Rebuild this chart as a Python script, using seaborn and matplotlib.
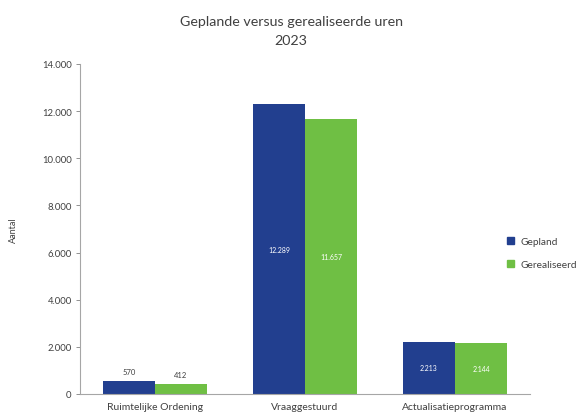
import pandas as pd
import matplotlib
matplotlib.use("Agg")
from matplotlib import pyplot as plt
import seaborn as sns

# Data
categories = ["Ruimtelijke Ordening", "Vraaggestuurd", "Actualisatieprogramma"]
gepland = [570, 12289, 2213]
gerealiseerd = [412, 11657, 2144]
series = ["Gepland", "Gerealiseerd"]
colors = ["#223F8F", "#6FBF44"]

df = pd.DataFrame({
    "categorie": categories * 2,
    "serie": [series[0]] * 3 + [series[1]] * 3,
    "aantal": gepland + gerealiseerd,
})

sns.set_style("white")
plt.rcParams["font.family"] = ["Lato", "DejaVu Sans"]


def nl(v):
    return f"{v:,.0f}".replace(",", ".")


fig = plt.figure(figsize=(5.82, 4.14), dpi=100)
ax = fig.add_axes([80 / 582, 1 - 395 / 414, 450 / 582, 330 / 414])

sns.barplot(data=df, x="categorie", y="aantal", hue="serie", palette=colors,
            width=0.694, saturation=1, ax=ax, legend=False, errorbar=None,
            linewidth=0)

for cont, s in zip(ax.containers, series):
    for bar in cont:
        h = bar.get_height()
        cx = bar.get_x() + bar.get_width() / 2
        if h > 1500:
            ax.text(cx, h / 2, nl(h), ha="center", va="center",
                    fontsize=5, color="white")
        else:
            ax.text(cx, h + 250, nl(h), ha="center", va="bottom",
                    fontsize=5.5, color="#404040")

ax.set_xlim(-0.5, 2.5)
ax.set_ylim(0, 14000)
ax.set_yticks(range(0, 14001, 2000))
ax.set_yticklabels([nl(v) for v in range(0, 14001, 2000)], fontsize=6.8,
                   color="#404040")
ax.tick_params(axis="x", labelsize=7.5, colors="#404040", length=0, pad=6)
ax.tick_params(axis="y", length=3, width=0.6, colors="#808080",
               labelcolor="#404040", direction="out", left=True, pad=3)
ax.set_xlabel("")
ax.set_ylabel("Aantal", fontsize=6.5, color="#404040", labelpad=17)

for sp in ["top", "right"]:
    ax.spines[sp].set_visible(False)
for sp in ["left", "bottom"]:
    ax.spines[sp].set_color("#A6A6A6")
    ax.spines[sp].set_linewidth(0.8)

fig.text(0.5, 1 - 22 / 414, "Geplande versus gerealiseerde uren", ha="center",
         va="center", fontsize=10.3, color="#404040")
fig.text(0.5, 1 - 41 / 414, "2023", ha="center", va="center", fontsize=10.3,
         color="#404040")

handles = [plt.Rectangle((0, 0), 1, 1, color=c) for c in colors]
fig.legend(handles, series, loc="center left",
           bbox_to_anchor=(498 / 582, 1 - 254 / 414), frameon=False,
           fontsize=7.3, handlelength=0.7, handleheight=0.7,
           handletextpad=0.6, labelspacing=1.3, labelcolor="#404040")

fig.savefig("out.png", dpi=100)
